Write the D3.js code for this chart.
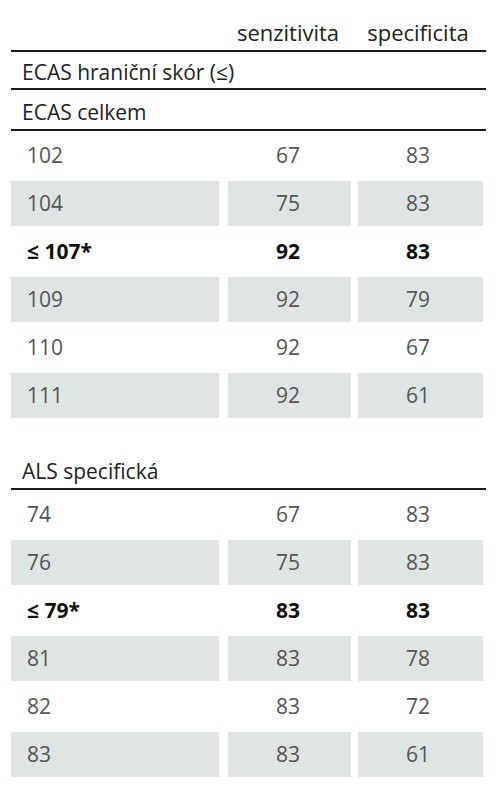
<!DOCTYPE html>
<html><head><meta charset="utf-8">
<script src="https://cdn.jsdelivr.net/npm/d3@7"></script>
<style>body{margin:0;background:#fff}</style>
</head><body>
<script>
var columns = ["senzitivita", "specificita"];
var title = "ECAS hraniční skór (≤)";
var groupNames = ["ECAS celkem", "ALS specifická"];
var cutoffs = [
  ["102", "104", "≤ 107*", "109", "110", "111"],
  ["74", "76", "≤ 79*", "81", "82", "83"]
];
var sensitivity = [[67, 75, 92, 92, 92, 92], [67, 75, 83, 83, 83, 83]];
var specificity = [[83, 83, 83, 79, 67, 61], [83, 83, 83, 78, 72, 61]];
var boldRow = 2;

var width = 503, height = 800;
var font = "'Open Sans', sans-serif";
var svg = d3.select("body").append("svg").attr("width", width).attr("height", height);

var colX = d3.scaleOrdinal().domain(["label", "sens", "spec"]).range([27, 288, 418]);
var cellX = { label: [11, 219], sens: [228, 351], spec: [358, 483] };
var rowY = d3.scaleLinear().domain([0, 1]).range([0, 48]);
var groupTop = [130, 489];

function rule(y) {
  svg.append("line").attr("x1", 11).attr("x2", 486).attr("y1", y).attr("y2", y)
    .attr("stroke", "#1a1a1a").attr("stroke-width", 2);
}

columns.forEach(function(c, i) {
  svg.append("text").attr("x", i ? 418 : 288).attr("y", 41).attr("text-anchor", "middle")
    .attr("font-family", font).attr("font-size", 22).attr("fill", "#222").text(c);
});
rule(51);
svg.append("text").attr("x", 22).attr("y", 80).attr("font-family", font)
  .attr("font-size", 21).attr("fill", "#222").text(title);
rule(89);

groupNames.forEach(function(g, gi) {
  var top = groupTop[gi];
  svg.append("text").attr("x", 22).attr("y", top - 10).attr("font-family", font)
    .attr("font-size", 21).attr("fill", "#222").text(g);
  rule(top);
  cutoffs[gi].forEach(function(label, ri) {
    var cy = top + 25 + rowY(ri);
    if (ri % 2 === 1) {
      Object.keys(cellX).forEach(function(k) {
        svg.append("rect").attr("x", cellX[k][0]).attr("width", cellX[k][1] - cellX[k][0])
          .attr("y", cy - 22).attr("height", 45).attr("fill", "#dfe5e3");
      });
    }
    var vals = [["label", label], ["sens", sensitivity[gi][ri]], ["spec", specificity[gi][ri]]];
    vals.forEach(function(v) {
      svg.append("text").attr("x", colX(v[0])).attr("y", cy + 8)
        .attr("text-anchor", v[0] === "label" ? "start" : "middle")
        .attr("font-family", font).attr("font-size", 21)
        .attr("font-weight", ri === boldRow ? "bold" : "normal")
        .attr("fill", ri === boldRow ? "#111" : "#555").text(v[1]);
    });
  });
});
</script>
</body></html>
